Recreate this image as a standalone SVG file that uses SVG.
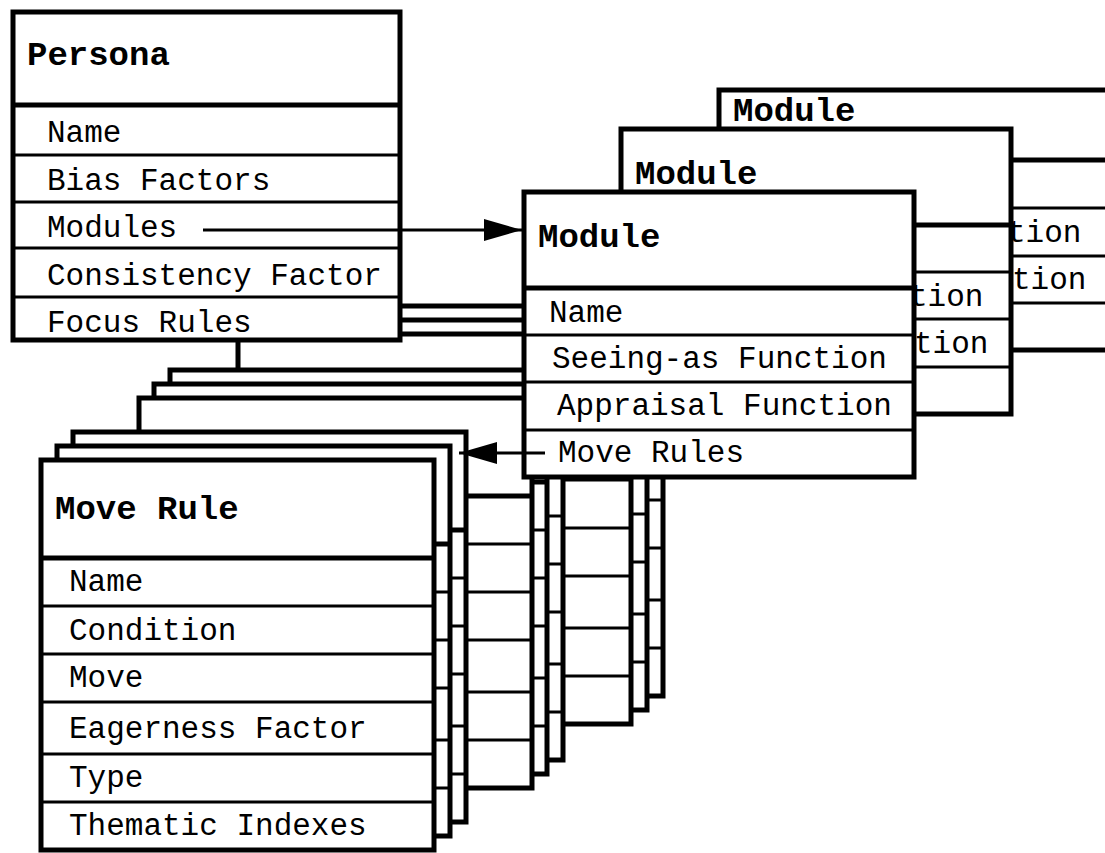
<svg xmlns="http://www.w3.org/2000/svg" width="1105" height="853" viewBox="0 0 1105 853">
<style>
.b{fill:#fff;stroke:#000;stroke-width:5}
.d{stroke:#000;stroke-width:5}
.r{stroke:#000;stroke-width:3}
.t{font-family:"Liberation Mono","Courier New",monospace;font-weight:bold;font-size:34px;fill:#000}
.f{font-family:"Liberation Mono","Courier New",monospace;font-size:31px;fill:#000}
.c{stroke:#000;stroke-width:3;fill:none}
</style>
<defs>
<g id="mod">
<rect class="b" x="0" y="0" width="390" height="285"/>
<line class="d" x1="0" y1="96" x2="390" y2="96"/>
<line class="r" x1="0" y1="143" x2="390" y2="143"/>
<line class="r" x1="0" y1="190" x2="390" y2="190"/>
<line class="r" x1="0" y1="238" x2="390" y2="238"/>
</g>
<g id="mr">
<rect class="b" x="0" y="0" width="393" height="390"/>
<line class="d" x1="0" y1="98" x2="393" y2="98"/>
<line class="r" x1="0" y1="146" x2="393" y2="146"/>
<line class="r" x1="0" y1="194" x2="393" y2="194"/>
<line class="r" x1="0" y1="242" x2="393" y2="242"/>
<line class="r" x1="0" y1="294" x2="393" y2="294"/>
<line class="r" x1="0" y1="342" x2="393" y2="342"/>
</g>
<marker id="ah" markerUnits="userSpaceOnUse" markerWidth="40" markerHeight="24" viewBox="0 0 40 24" refX="38" refY="11" orient="auto">
<path d="M0,0 L38,11 L0,22 z" fill="#000"/>
</marker>
</defs>

<g id="module3">
<rect class="b" x="719" y="90" width="395" height="260"/>
<line class="d" x1="719" y1="160" x2="1114" y2="160"/>
<line class="r" x1="719" y1="208" x2="1114" y2="208"/>
<line class="r" x1="719" y1="256" x2="1114" y2="256"/>
<line class="r" x1="719" y1="303" x2="1114" y2="303"/>
<text class="t" x="733" y="121">Module</text>
<text class="f" x="1007" y="242">tion</text>
<text class="f" x="1012" y="289">tion</text>
</g>

<g id="moverules3">
<use href="#mr" x="270" y="306"/>
<use href="#mr" x="254" y="320"/>
<use href="#mr" x="238" y="334"/>
</g>

<g id="module2">
<use href="#mod" x="621" y="129"/>
<text class="t" x="635" y="184">Module</text>
<text class="f" x="909" y="306">tion</text>
<text class="f" x="914" y="353">tion</text>
</g>

<g id="moverules2">
<use href="#mr" x="170" y="370"/>
<use href="#mr" x="154" y="384"/>
<use href="#mr" x="139" y="398"/>
</g>

<g id="persona">
<rect class="b" x="13" y="12" width="387" height="328"/>
<line class="d" x1="13" y1="105" x2="400" y2="105"/>
<line class="r" x1="13" y1="155" x2="400" y2="155"/>
<line class="r" x1="13" y1="202" x2="400" y2="202"/>
<line class="r" x1="13" y1="248" x2="400" y2="248"/>
<line class="r" x1="13" y1="297" x2="400" y2="297"/>
<text class="t" x="27" y="65">Persona</text>
<text class="f" x="47" y="142">Name</text>
<text class="f" x="47" y="190">Bias Factors</text>
<text class="f" x="47" y="237">Modules</text>
<text class="f" x="47" y="285">Consistency Factor</text>
<text class="f" x="47" y="332">Focus Rules</text>
</g>

<g id="module1">
<use href="#mod" x="524" y="192"/>
<text class="t" x="538" y="247">Module</text>
<text class="f" x="549" y="322">Name</text>
<text class="f" x="552" y="368">Seeing-as Function</text>
<text class="f" x="557" y="415">Appraisal Function</text>
<text class="f" x="558" y="462">Move Rules</text>
</g>

<g id="moverules1">
<use href="#mr" x="73" y="432"/>
<use href="#mr" x="57" y="446"/>
<use href="#mr" x="41" y="460"/>
<text class="t" x="55" y="519">Move Rule</text>
<text class="f" x="69" y="591">Name</text>
<text class="f" x="69" y="640">Condition</text>
<text class="f" x="69" y="687">Move</text>
<text class="f" x="69" y="738">Eagerness Factor</text>
<text class="f" x="69" y="787">Type</text>
<text class="f" x="69" y="835">Thematic Indexes</text>
</g>

<g id="connectors">
<line class="c" x1="203" y1="230" x2="522" y2="230" marker-end="url(#ah)"/>
<line class="c" x1="545" y1="453" x2="459" y2="453" marker-end="url(#ah)"/>
</g>
</svg>
